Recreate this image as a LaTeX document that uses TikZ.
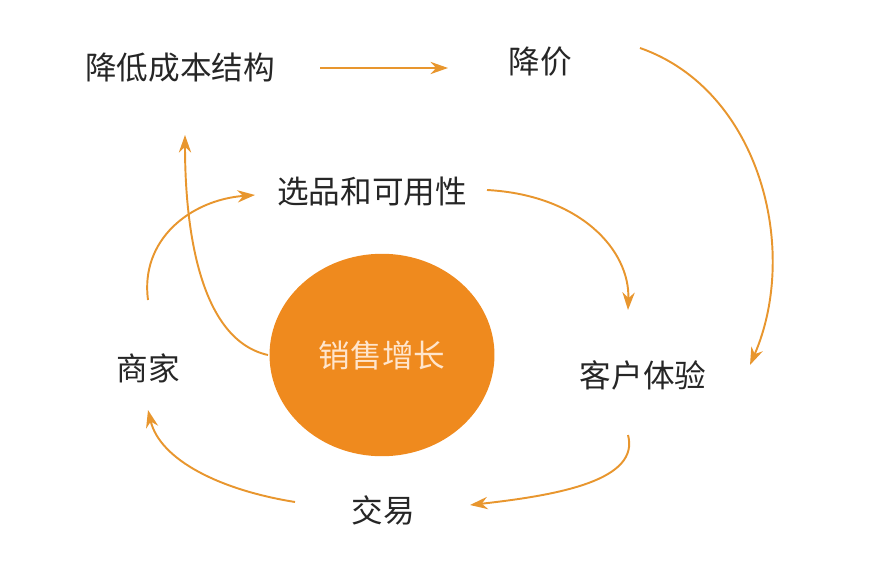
\documentclass[tikz,border=0pt]{standalone}
\usepackage{fontspec}
\setmainfont{Noto Sans CJK SC}
\usetikzlibrary{arrows.meta,shapes.geometric}
\definecolor{flow}{HTML}{E8962E}
\definecolor{core}{HTML}{EF8A1E}
\tikzset{
    stage/.style={font=\fontsize{18}{21}\selectfont, text=black!85},
    link/.style={draw=flow, line width=1.1pt, -{Stealth[length=10pt,width=7pt]}}
}
\begin{document}
\begin{tikzpicture}[x=0.02cm,y=-0.02cm]
    \useasboundingbox (0,0) rectangle (884,580);
    \node[ellipse, fill=core, minimum width=4.5cm, minimum height=4.05cm, inner sep=0pt] (growth) at (382,355) {};
    \node[font=\fontsize{18}{21}\selectfont, text=orange!20] (growthtext) at (growth) {销售增长};

    \node[stage] (cost) at (180,68) {降低成本结构};
    \node[stage] (price) at (540,62) {降价};
    \node[stage] (select) at (372,192) {选品和可用性};
    \node[stage] (seller) at (148,368) {商家};
    \node[stage] (exp) at (643,375) {客户体验};
    \node[stage] (deal) at (383,510) {交易};

    \coordinate (c1) at (320,68);
    \coordinate (c2) at (448,68);
    \draw[link] (c1) -- (c2);
    \draw[link] (640,48) .. controls (760,90) and (800,250) .. (750,365);
    \draw[link] (487,190) .. controls (580,195) and (630,250) .. (628,310);
    \draw[link] (628,435) .. controls (640,480) and (560,495) .. (470,505);
    \draw[link] (295,502) .. controls (220,490) and (160,460) .. (148,410);
    \draw[link] (148,300) .. controls (140,240) and (190,200) .. (255,195);
    \draw[link] (268,355) .. controls (200,340) and (185,230) .. (185,135);
\end{tikzpicture}
\end{document}
